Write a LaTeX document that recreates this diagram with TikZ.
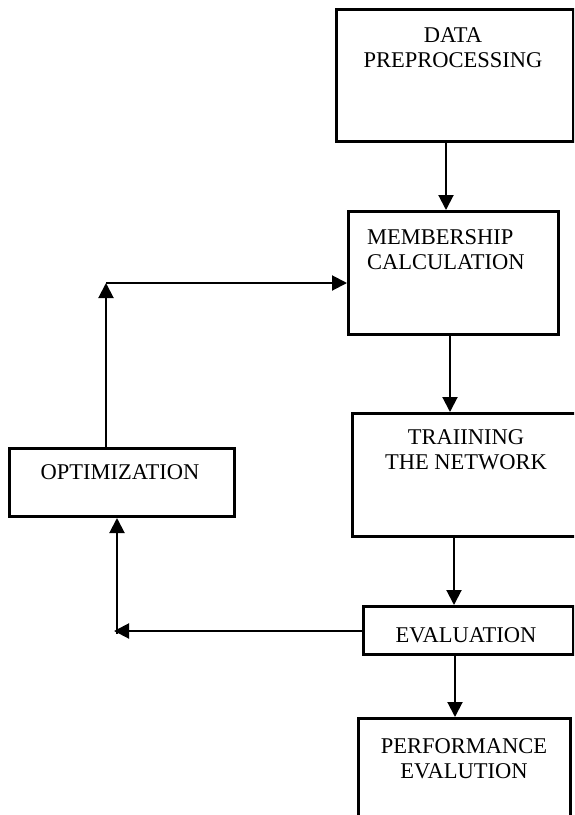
\documentclass[tikz,border=0pt]{standalone}
\usepackage{fontspec}
\setmainfont{Liberation Serif}
\usetikzlibrary{arrows.meta}
\begin{document}
\begin{tikzpicture}[x=1pt,y=-1pt,
  stagebox/.style={draw=black,line width=3pt,inner sep=0pt,anchor=north west},
  label/.style={inner sep=0pt,font=\fontsize{22.5}{25}\selectfont},
  arr/.style={line width=2pt,-{Triangle[width=15pt,length=15pt]}}]
  % page frame
  \useasboundingbox (0,0) rectangle (574,815);
  \clip (0,0) rectangle (574,815);

  % stage boxes (north-west corner, width, height)
  \node[stagebox,minimum width=237pt,minimum height=132pt] (dp) at (335,8) {};
  \node[stagebox,minimum width=210pt,minimum height=123pt] (mc) at (347,210) {};
  \node[stagebox,minimum width=240pt,minimum height=123pt] (tn) at (351,412) {};
  \node[stagebox,minimum width=225pt,minimum height=68pt]  (op) at (8,447) {};
  \node[stagebox,minimum width=210pt,minimum height=48pt]  (ev) at (362,605) {};
  \node[stagebox,minimum width=212pt,minimum height=120pt] (pe) at (357,717) {};

  % stage labels
  \node[label,align=center] (dpt) at (453,48) {DATA\\PREPROCESSING};
  \node[label,align=left,anchor=west] (mct) at (367,249.5) {MEMBERSHIP\\CALCULATION};
  \node[label,align=center] (tnt) at (466,449.5) {TRAIINING\\THE NETWORK};
  \node[label] (opt) at (120,472) {OPTIMIZATION};
  \node[label] (evt) at (466,635) {EVALUATION};
  \node[label,align=center] (pet) at (464,759) {PERFORMANCE\\EVALUTION};

  % bend points of the feedback loops
  \coordinate (k1) at (106,283);
  \coordinate (k2) at (117,631);
  \coordinate (x1) at (446,0);
  \coordinate (x2) at (450,0);
  \coordinate (x3) at (454,0);
  \coordinate (x4) at (455,0);

  % main flow
  \draw[arr] (dp.south -| x1) -- (mc.north -| x1);
  \draw[arr] (mc.south -| x2) -- (tn.north -| x2);
  \draw[arr] (tn.south -| x3) -- (ev.north -| x3);
  \draw[arr] (ev.south -| x4) -- (pe.north -| x4);

  % optimization loop
  \draw[arr] (ev.west |- k2) -- ([xshift=-3pt]k2);
  \draw[arr] ([yshift=-3pt]k2) -- (k2 |- op.south);
  \draw[arr] (op.north -| k1) -- (k1);
  \draw[arr] (k1) -- (k1 -| mc.west);
\end{tikzpicture}
\end{document}
